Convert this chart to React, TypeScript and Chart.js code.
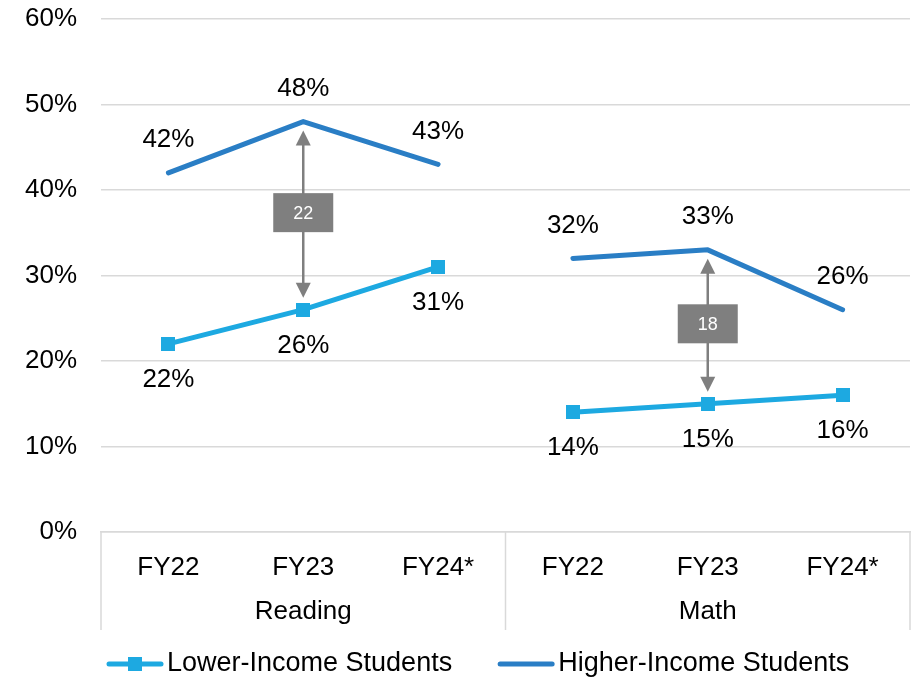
import { useEffect, useRef } from 'react';
import { Chart, registerables } from 'chart.js';

Chart.register(...registerables);

const subjects = ['Reading', 'Math'];
const years = ['FY22', 'FY23', 'FY24*'];
const lowerIncome = [22, 26, 31, 14, 15, 16];
const higherIncome = [42, 48, 43, 32, 33, 26];
const gapIndices = [1, 4];
const gapLabels = ['22', '18'];
const seriesNames = ['Lower-Income Students', 'Higher-Income Students'];
const yMin = 0;
const yMax = 60;
const yStep = 10;

const LOWER_COLOR = '#1DA9E1';
const HIGHER_COLOR = '#2A7EC5';
const GRID_COLOR = '#D9D9D9';
const ARROW_COLOR = '#7F7F7F';
const FONT = '"Liberation Sans", Arial, sans-serif';
const AXIS_HEIGHT = 98;
const MARKER = 14;

const categories = subjects.flatMap(() => years);

const groupPlugin = {
  id: 'groupAxis',
  afterDraw(chart: any) {
    const { ctx, chartArea, scales } = chart;
    const x = scales.x;
    const n = years.length;
    ctx.save();
    ctx.strokeStyle = GRID_COLOR;
    ctx.lineWidth = 1.5;
    const bounds: number[] = [chartArea.left];
    for (let g = 1; g < subjects.length; g++) {
      bounds.push((x.getPixelForValue(g * n - 1) + x.getPixelForValue(g * n)) / 2);
    }
    bounds.push(chartArea.right);
    bounds.forEach((bx) => {
      ctx.beginPath();
      ctx.moveTo(bx, chartArea.bottom);
      ctx.lineTo(bx, chartArea.bottom + AXIS_HEIGHT);
      ctx.stroke();
    });
    ctx.fillStyle = '#000';
    ctx.font = `26px ${FONT}`;
    ctx.textAlign = 'center';
    ctx.textBaseline = 'middle';
    subjects.forEach((s, g) => {
      const cx = (x.getPixelForValue(g * n) + x.getPixelForValue(g * n + n - 1)) / 2;
      ctx.fillText(s, cx, chartArea.bottom + 80);
    });
    ctx.restore();
  },
};

const valueLabelPlugin = {
  id: 'valueLabels',
  afterDatasetsDraw(chart: any) {
    const { ctx } = chart;
    ctx.save();
    ctx.fillStyle = '#000';
    ctx.font = `26px ${FONT}`;
    ctx.textAlign = 'center';
    ctx.textBaseline = 'middle';
    chart.data.datasets.forEach((ds: any, di: number) => {
      const meta = chart.getDatasetMeta(di);
      meta.data.forEach((pt: any, i: number) => {
        const v = ds.data[i];
        if (v == null) return;
        const dy = ds.labelPos === 'above' ? -33 : 36;
        ctx.fillText(`${v}%`, pt.x, pt.y + dy);
      });
    });
    ctx.restore();
  },
};

const gapPlugin = {
  id: 'gapArrows',
  afterDatasetsDraw(chart: any) {
    const { ctx, scales } = chart;
    ctx.save();
    gapIndices.forEach((idx, k) => {
      const x = scales.x.getPixelForValue(idx);
      const yHi = scales.y.getPixelForValue(higherIncome[idx]);
      const yLo = scales.y.getPixelForValue(lowerIncome[idx]);
      const top = yHi + 9;
      const bot = yLo - 12;
      const head = 15;
      const hw = 7.5;
      ctx.strokeStyle = ARROW_COLOR;
      ctx.fillStyle = ARROW_COLOR;
      ctx.lineWidth = 2.5;
      ctx.beginPath();
      ctx.moveTo(x, top + head - 1);
      ctx.lineTo(x, bot - head + 1);
      ctx.stroke();
      ctx.beginPath();
      ctx.moveTo(x, top);
      ctx.lineTo(x - hw, top + head);
      ctx.lineTo(x + hw, top + head);
      ctx.closePath();
      ctx.fill();
      ctx.beginPath();
      ctx.moveTo(x, bot);
      ctx.lineTo(x - hw, bot - head);
      ctx.lineTo(x + hw, bot - head);
      ctx.closePath();
      ctx.fill();
      const cy = (yHi + yLo) / 2 - 3;
      const bw = 60;
      const bh = 39;
      ctx.fillRect(x - bw / 2, cy - bh / 2, bw, bh);
      ctx.fillStyle = '#FFFFFF';
      ctx.font = `18px ${FONT}`;
      ctx.textAlign = 'center';
      ctx.textBaseline = 'middle';
      ctx.fillText(gapLabels[k], x, cy + 1);
    });
    ctx.restore();
  },
};

const legendPlugin = {
  id: 'customLegend',
  afterDraw(chart: any) {
    const { ctx, chartArea } = chart;
    const y = chartArea.bottom + AXIS_HEIGHT + 34;
    let x = chartArea.left + 6;
    const lineLen = 56;
    ctx.save();
    ctx.font = `27px ${FONT}`;
    ctx.textBaseline = 'middle';
    ctx.textAlign = 'left';
    chart.data.datasets.forEach((ds: any, i: number) => {
      ctx.strokeStyle = ds.borderColor;
      ctx.lineWidth = 5;
      ctx.lineCap = 'round';
      ctx.beginPath();
      ctx.moveTo(x + 2, y);
      ctx.lineTo(x + lineLen - 2, y);
      ctx.stroke();
      if (ds.hasMarker) {
        ctx.fillStyle = ds.borderColor;
        ctx.fillRect(x + lineLen / 2 - MARKER / 2, y - MARKER / 2, MARKER, MARKER);
      }
      ctx.fillStyle = '#000';
      const tx = x + lineLen + 4;
      ctx.fillText(seriesNames[i], tx, y);
      x = tx + ctx.measureText(seriesNames[i]).width + 46;
    });
    ctx.restore();
  },
};

export default function App() {
  const ref = useRef<HTMLCanvasElement | null>(null);
  useEffect(() => {
    if (!ref.current) return;
    Chart.defaults.font.family = FONT;
    const marker = document.createElement('canvas');
    marker.width = MARKER;
    marker.height = MARKER;
    const mctx = marker.getContext('2d');
    if (mctx) {
      mctx.fillStyle = LOWER_COLOR;
      mctx.fillRect(0, 0, MARKER, MARKER);
    }
    const gapSegment = {
      borderColor: (c: any) => (c.p1DataIndex % years.length === 0 ? 'rgba(0,0,0,0)' : undefined),
    };
    const chart = new Chart(ref.current, {
      type: 'line',
      data: {
        labels: categories,
        datasets: [
          {
            label: seriesNames[0],
            data: lowerIncome,
            borderColor: LOWER_COLOR,
            backgroundColor: LOWER_COLOR,
            borderWidth: 5,
            borderCapStyle: 'round',
            borderJoinStyle: 'round',
            pointStyle: marker,
            pointRadius: 1,
            pointHoverRadius: 1,
            pointBorderWidth: 0,
            tension: 0,
            segment: gapSegment,
            labelPos: 'below',
            hasMarker: true,
          } as any,
          {
            label: seriesNames[1],
            data: higherIncome,
            borderColor: HIGHER_COLOR,
            backgroundColor: HIGHER_COLOR,
            borderWidth: 5,
            borderCapStyle: 'round',
            borderJoinStyle: 'round',
            pointRadius: 0,
            pointHoverRadius: 0,
            tension: 0,
            segment: gapSegment,
            labelPos: 'above',
            hasMarker: false,
          } as any,
        ],
      },
      options: {
        responsive: false,
        animation: false,
        layout: { padding: { top: 0, right: 5, bottom: 47, left: 0 } },
        plugins: {
          legend: { display: false },
          tooltip: { enabled: false },
        },
        scales: {
          x: {
            type: 'category',
            offset: true,
            grid: { display: false },
            border: { display: true, color: GRID_COLOR, width: 1.5 },
            ticks: {
              color: '#000',
              font: { size: 26, family: FONT, lineHeight: 1.2 },
              padding: 12,
              autoSkip: false,
              maxRotation: 0,
            },
            afterFit: (s: any) => {
              s.height = AXIS_HEIGHT;
              s.paddingLeft = 0;
              s.paddingRight = 0;
            },
          },
          y: {
            min: yMin,
            max: yMax,
            grid: { color: GRID_COLOR, lineWidth: 1.5, drawTicks: false },
            border: { display: false },
            ticks: {
              stepSize: yStep,
              color: '#000',
              font: { size: 26, family: FONT, lineHeight: 1.2 },
              padding: 24,
              callback: (v: any) => `${v}%`,
            },
            afterFit: (s: any) => {
              s.width = 101;
              s.paddingTop = 19;
              s.paddingBottom = 0;
            },
          },
        },
      },
      plugins: [groupPlugin, valueLabelPlugin, gapPlugin, legendPlugin],
    });
    return () => chart.destroy();
  }, []);
  return (
    <div style={{ position: 'absolute', left: 0, top: 0, width: 915, height: 677 }}>
      <canvas ref={ref} width={915} height={677} />
    </div>
  );
}
